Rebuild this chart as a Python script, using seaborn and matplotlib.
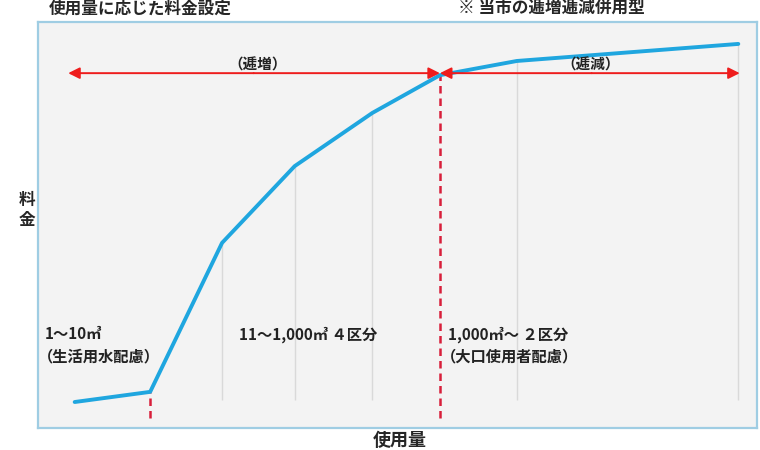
import matplotlib.pyplot as plt
import seaborn as sns
import pandas as pd

# usage (horizontal position, arbitrary units) and charge (arbitrary units)
usage = [5.1, 15.6, 25.6, 35.7, 46.5, 55.9, 66.6, 97.4]
charge = [6.4, 8.9, 45.6, 64.5, 77.6, 86.9, 90.4, 94.6]

# breakpoints where the tariff block changes (red dashed lines)
breaks = [15.6, 55.9]
# light grey guide lines under the curve
guides = [25.6, 35.7, 46.5, 66.6, 97.4]
guide_tops = [45.6, 64.5, 77.6, 90.4, 94.6]

block_first = ["1～10㎥", "11～1,000㎥ ４区分", "1,000㎥～ ２区分"]
block_second = ["（生活用水配慮）", "", "（大口使用者配慮）"]
block_x = [1.0, 28.0, 57.0]
trend_labels = ["（逓増）", "（逓減）"]
trend_x = [30.5, 76.8]

sns.set_style("white")
plt.rcParams["font.family"] = ["Noto Sans CJK JP", "DejaVu Sans"]

fig = plt.figure(figsize=(7.6, 4.5), dpi=100)
ax = fig.add_axes([38 / 760, 1 - 428 / 450, 719 / 760, 406 / 450])
ax.set_facecolor("#f3f3f3")
ax.set_xlim(0, 100)
ax.set_ylim(0, 100)

for s in ax.spines.values():
    s.set_color("#9fcde3")
    s.set_linewidth(1.6)
ax.set_xticks([])
ax.set_yticks([])

# guide lines
ax.vlines(guides, 6.9, guide_tops, color="#d9d9d9", lw=1.0, zorder=1)

# red dashed breakpoints
ax.vlines(breaks[0], 2.5, charge[1], color="#d81f3a", lw=1.8, ls=(0, (3, 2)), zorder=2)
ax.vlines(breaks[1], 2.5, charge[5], color="#d81f3a", lw=1.8, ls=(0, (3, 2)), zorder=2)

df = pd.DataFrame({"usage": usage, "charge": charge})
sns.lineplot(data=df, x="usage", y="charge", ax=ax, color="#1fa6df", lw=2.8,
             sort=False, zorder=3)
ax.set_xlabel("")
ax.set_ylabel("")

# red arrows
arrow_y = 87.4
arr = dict(arrowstyle="-|>", color="#ee1c1c", lw=1.4, mutation_scale=17,
           shrinkA=0, shrinkB=0)
ax.annotate("", xy=(4.2, arrow_y), xytext=(30, arrow_y), arrowprops=arr, zorder=4)
ax.annotate("", xy=(breaks[1], arrow_y), xytext=(30, arrow_y), arrowprops=arr, zorder=4)
ax.annotate("", xy=(breaks[1], arrow_y), xytext=(77, arrow_y), arrowprops=arr, zorder=4)
ax.annotate("", xy=(97.6, arrow_y), xytext=(77, arrow_y), arrowprops=arr, zorder=4)

for lab, x in zip(trend_labels, trend_x):
    ax.text(x, arrow_y + 2.4, lab, ha="center", va="center_baseline", fontsize=10.5,
            fontweight="bold", color="#222222", zorder=5)

for first, second, x in zip(block_first, block_second, block_x):
    ax.text(x, 23.1, first, ha="left", va="center", fontsize=11, fontweight="bold",
            color="#222222", zorder=5)
    ax.text(x - 1.0, 17.7, second, ha="left", va="center", fontsize=11,
            fontweight="bold", color="#222222", zorder=5)

# axis titles
fig.text(27 / 760, 1 - 210 / 450, "料\n金", ha="center", va="center",
         fontsize=12, fontweight="bold", linespacing=1.1)
fig.text(400 / 760, 1 - 440 / 450, "使用量", ha="center", va="center",
         fontsize=13, fontweight="bold")

# headings above the frame
fig.text(232 / 760, 1 - 9 / 450, "使用量に応じた料金設定", ha="right", va="center",
         fontsize=12, fontweight="bold")
fig.text(458 / 760, 1 - 9 / 450, "※ 当市の逓増逓減併用型", ha="left", va="center",
         fontsize=12, fontweight="bold")

fig.savefig("out.png", dpi=100)
